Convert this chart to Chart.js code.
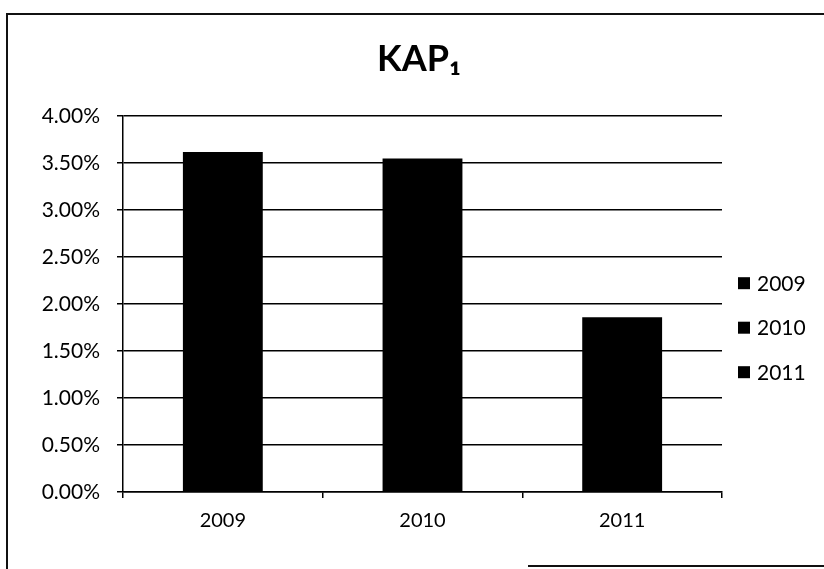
<!DOCTYPE html>
<html>
<head>
<meta charset="utf-8">
<title>KAP1</title>
<script src="https://cdn.jsdelivr.net/npm/chart.js@4.4.0/dist/chart.umd.min.js"></script>
<style>
  html, body { margin: 0; padding: 0; background: #fff; }
  .chart-box { position: relative; width: 824px; height: 569px; overflow: hidden; }
  .frame { position: absolute; left: 6px; top: 13px; right: 0; bottom: 0;
           border-top: 2px solid #111; border-left: 2px solid #111; pointer-events: none; }
  .frame-edge { position: absolute; left: 528px; top: 565px; width: 296px;
                border-top: 2px solid #111; pointer-events: none; }
</style>
</head>
<body>
<div class="chart-box">
  <canvas id="chart" width="824" height="569"></canvas>
  <div class="frame"></div>
  <div class="frame-edge"></div>
</div>
<script>
// categories and values (percent)
const years = ['2009', '2010', '2011'];
const kapValues = [3.62, 3.55, 1.86];
const yTickValues = [0, 0.5, 1, 1.5, 2, 2.5, 3, 3.5, 4];

Chart.defaults.font.family = 'Lato';
Chart.defaults.color = '#000';

// legend on the right, one black square per year
const sideLegend = {
  id: 'sideLegend',
  afterDraw(chart, args, opts) {
    const { ctx, chartArea } = chart;
    ctx.save();
    ctx.font = '21px Lato';
    ctx.textBaseline = 'middle';
    ctx.fillStyle = '#000';
    years.forEach((year, i) => {
      const x = chartArea.right + opts.left;
      const y = chartArea.top + opts.top + i * opts.spacing;
      ctx.fillRect(x, y - 6, 12, 12);
      ctx.fillText(year, x + 19, y + 1);
    });
    ctx.restore();
  }
};

new Chart(document.getElementById('chart'), {
  type: 'bar',
  data: {
    labels: years,
    datasets: [{
      label: 'KAP1',
      data: kapValues,
      backgroundColor: '#000',
      borderWidth: 0,
      categoryPercentage: 1,
      barPercentage: 0.4
    }]
  },
  options: {
    responsive: false,
    animation: false,
    layout: { padding: { left: 20, right: 6, top: 10, bottom: 36 } },
    plugins: {
      legend: { display: false },
      tooltip: { enabled: false },
      title: {
        display: true,
        text: 'KAP₁',
        color: '#000',
        font: { size: 36, weight: 'bold' },
        padding: { top: 28, bottom: 35 }
      },
      sideLegend: { left: 16, top: 167, spacing: 44.5 }
    },
    scales: {
      x: {
        grid: { drawOnChartArea: false, color: '#000', lineWidth: 1.5, tickLength: 6 },
        border: { color: '#000', width: 1.5 },
        ticks: { font: { size: 20 }, padding: 11 },
        afterFit(scale) { scale.height = 41; }
      },
      y: {
        min: 0,
        max: 4,
        afterBuildTicks(scale) { scale.ticks = yTickValues.map(v => ({ value: v })); },
        grid: { color: '#000', lineWidth: 1.5, tickLength: 6 },
        border: { color: '#000', width: 1.5 },
        ticks: {
          font: { size: 21 },
          padding: 17,
          callback: v => v.toFixed(2) + '%'
        },
        afterFit(scale) { scale.width = 103; }
      },
      yRight: {
        position: 'right',
        grid: { display: false },
        border: { display: false },
        ticks: { display: false },
        afterFit(scale) { scale.width = 96; }
      }
    }
  },
  plugins: [sideLegend]
});
</script>
</body>
</html>
